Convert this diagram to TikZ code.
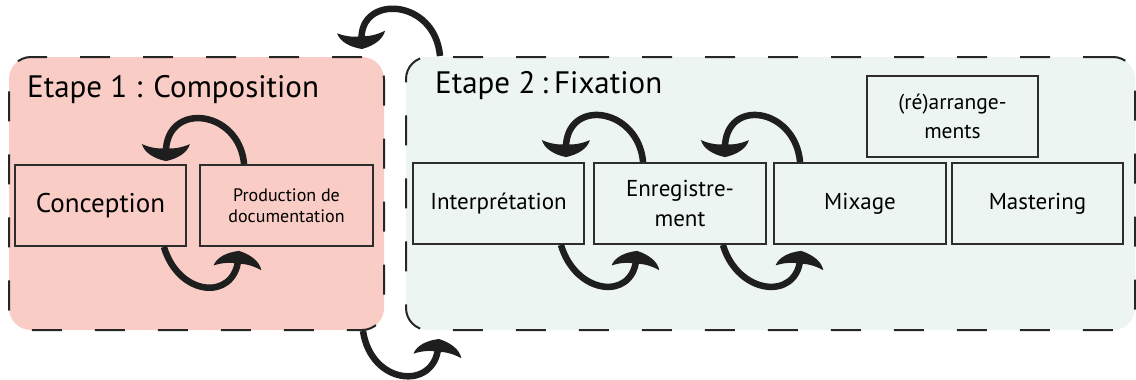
\documentclass[tikz,border=0pt]{standalone}
\usepackage{fontspec}
\setmainfont{PT Sans}
\usetikzlibrary{arrows.meta}
\pgfdeclarearrow{
  name = Swoosh,
  parameters = {\the\pgfarrowlength,\the\pgfarrowwidth},
  setup code = {
    \pgfarrowssettipend{0pt}
    \pgfarrowssetlineend{-.5\pgfarrowlength}
    \pgfarrowssetbackend{-\pgfarrowlength}
    \pgfarrowssetvisualbackend{-.5\pgfarrowlength}
    \pgfarrowshullpoint{0pt}{0pt}
    \pgfarrowshullpoint{-\pgfarrowlength}{.5\pgfarrowwidth}
    \pgfarrowshullpoint{-\pgfarrowlength}{-.5\pgfarrowwidth}
    \pgfarrowssavethe\pgfarrowlength
    \pgfarrowssavethe\pgfarrowwidth
  },
  drawing code = {
    \pgfpathmoveto{\pgfpointorigin}
    \pgfpathcurveto{\pgfpoint{-.15\pgfarrowlength}{.25\pgfarrowwidth}}{\pgfpoint{-.5\pgfarrowlength}{.45\pgfarrowwidth}}{\pgfpoint{-\pgfarrowlength}{.5\pgfarrowwidth}}
    \pgfpathcurveto{\pgfpoint{-.75\pgfarrowlength}{.3\pgfarrowwidth}}{\pgfpoint{-.7\pgfarrowlength}{.1\pgfarrowwidth}}{\pgfpoint{-.78\pgfarrowlength}{0pt}}
    \pgfpathcurveto{\pgfpoint{-.7\pgfarrowlength}{-.1\pgfarrowwidth}}{\pgfpoint{-.75\pgfarrowlength}{-.3\pgfarrowwidth}}{\pgfpoint{-\pgfarrowlength}{-.5\pgfarrowwidth}}
    \pgfpathcurveto{\pgfpoint{-.5\pgfarrowlength}{-.45\pgfarrowwidth}}{\pgfpoint{-.15\pgfarrowlength}{-.25\pgfarrowwidth}}{\pgfpointorigin}
    \pgfpathclose
    \pgfusepathqfill
  },
  defaults = {length = 17pt, width = 48pt}
}
\definecolor{pinkfill}{RGB}{249,205,197}
\definecolor{greenfill}{RGB}{237,245,242}
\definecolor{boxgray}{RGB}{45,45,45}
\definecolor{arrowblack}{RGB}{30,30,30}
\tikzset{
  region/.style={draw=black!85, line width=2pt, dash pattern=on 30pt off 33pt,
    rounded corners=22pt, inner sep=0pt, minimum height=273pt},
  stagetitle/.style={anchor=base west, inner sep=0pt, font=\fontsize{31}{36}\selectfont},
  stepbox/.style={draw=boxgray, line width=1.8pt, inner sep=0pt, align=center,
    minimum height=81pt, font=\fontsize{23}{30}\selectfont},
  swoosh/.style={line width=6.5pt, draw=arrowblack, -{Swoosh}}
}
\begin{document}
\begin{tikzpicture}[x=1pt,y=-1pt]
\useasboundingbox (0,0) rectangle (1136,380);
% regions
\node[region, fill=pinkfill, minimum width=375pt] (comp) at (196.5,193.5) {};
\node[region, fill=greenfill, minimum width=729pt] (fix) at (770.5,193.5) {};
% titles
\node[stagetitle] (t1) at (27,97) {Etape 1 : Composition};
\node[stagetitle] (t2) at (435,93) {Etape 2\hspace{6pt}:\hspace{6pt}Fixation};
% boxes
\node[stepbox, minimum width=171pt, font=\fontsize{27}{30}\selectfont] (conc) at (100.5,205.5) {Conception};
\node[stepbox, minimum width=173pt, font=\fontsize{18}{21}\selectfont] (prod) at (286.5,205.5) {Production de\\documentation};
\node[stepbox, minimum width=171pt] (interp) at (498.5,203.5) {Interprétation};
\node[stepbox, minimum width=172pt] (enreg) at (680,203.5) {Enregistre-\\ment};
\node[stepbox, minimum width=172pt] (mix) at (860,203.5) {Mixage};
\node[stepbox, minimum width=171pt] (mast) at (1037.5,203.5) {Mastering};
\node[stepbox, minimum width=171pt, font=\fontsize{21.5}{29}\selectfont] (arr) at (952.5,116.5) {(ré)arrange-\\ments};
% arrows
\draw[swoosh] ([xshift=45pt]prod.north west) .. controls +(-5,-55) and +(0,-60) .. ([xshift=-21pt,yshift=3pt]conc.north east);
\draw[swoosh] ([xshift=-23pt]conc.south east) .. controls +(15,50) and +(-5,50) .. ([xshift=40pt,yshift=-4pt]prod.south west);
\draw[swoosh] ([xshift=35pt]fix.north west) .. controls +(-5,-58) and +(-3,-55) .. ([xshift=-23pt,yshift=7pt]comp.north east);
\draw[swoosh] ([xshift=-22pt]comp.south east) .. controls +(8,54) and +(-5,52) .. ([xshift=34pt,yshift=-8pt]fix.south west);
\draw[swoosh] ([xshift=50pt]enreg.north west) .. controls +(-5,-55) and +(0,-60) .. ([xshift=-19pt,yshift=5pt]interp.north east);
\draw[swoosh] ([xshift=27pt]mix.north west) .. controls +(-5,-55) and +(0,-60) .. ([xshift=-42pt,yshift=5pt]enreg.north east);
\draw[swoosh] ([xshift=-24pt]interp.south east) .. controls +(15,50) and +(-5,50) .. ([xshift=44pt,yshift=-6pt]enreg.south west);
\draw[swoosh] ([xshift=-44pt]enreg.south east) .. controls +(15,50) and +(-5,50) .. ([xshift=28pt,yshift=-6pt]mix.south west);
\end{tikzpicture}
\end{document}
